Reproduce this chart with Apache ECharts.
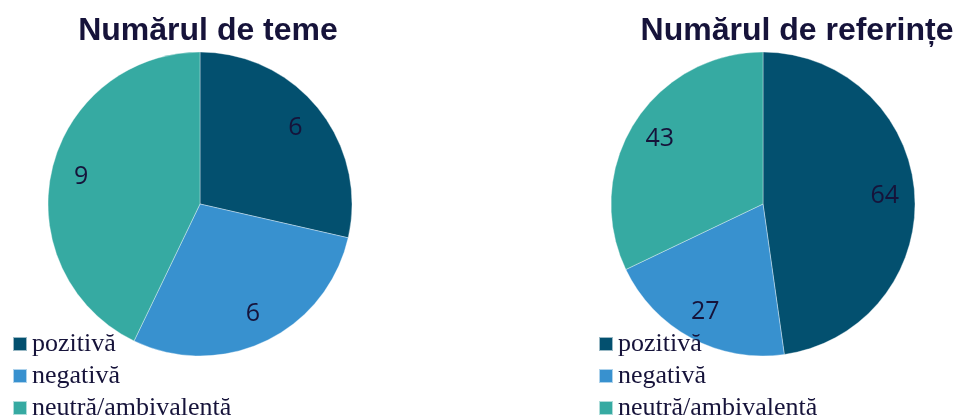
<!DOCTYPE html>
<html>
<head>
<meta charset="utf-8">
<script src="https://cdn.jsdelivr.net/npm/echarts@6/dist/echarts.min.js"></script>
<style>
html,body{margin:0;padding:0;background:#fff;}
#chart{width:957px;height:416px;}
</style>
</head>
<body>
<div id="chart"></div>
<script>
const categories = ['pozitivă', 'negativă', 'neutră/ambivalentă'];
const temeValues = [6, 6, 9];
const referinteValues = [64, 27, 43];
const titles = ['Numărul de teme', 'Numărul de referințe'];
const colors = ['#03506f', '#3891cf', '#36aaa2'];
const textColor = '#16133a';

function toData(vals) {
  return categories.map((c, i) => ({ name: c, value: vals[i], itemStyle: { color: colors[i] } }));
}

const centers = [[200, 204], [763, 204]];
const R = 152;

function mainSeries(vals, center) {
  return {
    type: 'pie',
    center: center,
    radius: [0, R],
    startAngle: 90,
    clockwise: true,
    animation: false,
    label: { show: false },
    labelLine: { show: false },
    itemStyle: { borderColor: 'rgba(255,255,255,0.6)', borderWidth: 0.6 },
    emphasis: { disabled: true },
    data: toData(vals)
  };
}
function labelSeries(vals, center) {
  return {
    type: 'pie',
    center: center,
    radius: [86, R],
    startAngle: 90,
    clockwise: true,
    silent: true,
    animation: false,
    itemStyle: { color: 'rgba(0,0,0,0)', borderWidth: 0 },
    label: {
      show: true,
      position: 'inside',
      formatter: '{c}',
      color: textColor,
      fontFamily: 'Open Sans',
      fontSize: 25
    },
    labelLine: { show: false },
    emphasis: { disabled: true },
    data: categories.map((c, i) => ({ name: c, value: vals[i] }))
  };
}

const legendBase = {
  orient: 'vertical',
  top: 331,
  height: 120,
  padding: 0,
  itemWidth: 14,
  itemHeight: 14,
  itemGap: 6,
  icon: 'rect',
  selectedMode: false,
  data: categories,
  textStyle: { fontFamily: 'Liberation Serif', fontSize: 26, lineHeight: 26, color: textColor }
};

const chart = echarts.init(document.getElementById('chart'), null, { renderer: 'canvas' });
chart.setOption({
  animation: false,
  legend: [
    Object.assign({}, legendBase, { left: 12 }),
    Object.assign({}, legendBase, { left: 598 })
  ],
  graphic: [
    { type: 'text', x: 208, y: 31, z: 10, style: { text: titles[0], textAlign: 'center', textVerticalAlign: 'middle', font: 'bold 32px "Liberation Sans", Arial, sans-serif', fill: textColor } },
    { type: 'text', x: 797, y: 31, z: 10, style: { text: titles[1], textAlign: 'center', textVerticalAlign: 'middle', font: 'bold 32px "Liberation Sans", Arial, sans-serif', fill: textColor } }
  ],
  series: [
    mainSeries(temeValues, centers[0]),
    mainSeries(referinteValues, centers[1]),
    labelSeries(temeValues, centers[0]),
    labelSeries(referinteValues, centers[1])
  ]
});
</script>
</body>
</html>
